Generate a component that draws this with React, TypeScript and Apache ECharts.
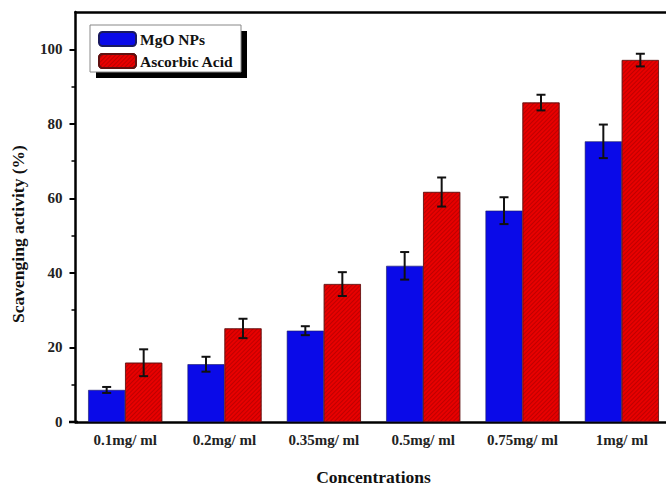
import React, { useEffect, useRef } from "react";
import * as echarts from "echarts";

const categories = ["0.1mg/ ml", "0.2mg/ ml", "0.35mg/ ml", "0.5mg/ ml", "0.75mg/ ml", "1mg/ ml"];
const mgoValues = [8.6, 15.5, 24.5, 41.9, 56.7, 75.3];
const mgoErrors = [0.8, 2.0, 1.2, 3.7, 3.6, 4.5];
const acidValues = [15.9, 25.1, 37.0, 61.7, 85.7, 97.1];
const acidErrors = [3.6, 2.6, 3.2, 3.9, 2.1, 1.7];
const seriesNames = ["MgO NPs", "Ascorbic Acid"];
const yTicks = [0, 20, 40, 60, 80, 100];
const yTitle = "Scavenging activity (%)";

const FONT = "'Liberation Serif', 'Times New Roman', serif";
const GAP = 0.255;

function errorSeries(name: string, values: number[], errs: number[], side: number) {
  return {
    type: "custom",
    name: name + " err",
    xAxisIndex: 0,
    yAxisIndex: 0,
    z: 10,
    silent: true,
    encode: { x: 0, y: 1 },
    data: values.map((v, i) => [i, v, errs[i]]),
    renderItem: (params: any, api: any) => {
      const x = api.value(0);
      const v = api.value(1);
      const e = api.value(2);
      const cw = api.size([1, 0])[0];
      const bw = (cw * (1 - GAP)) / 2;
      const off = (side * bw) / 2;
      const top = api.coord([x, v + e]);
      const bot = api.coord([x, v - e]);
      const cx = top[0] + off;
      const cap = 4.5;
      const style = { stroke: "#111", lineWidth: 2 };
      return {
        type: "group",
        children: [
          { type: "line", shape: { x1: cx, y1: top[1], x2: cx, y2: bot[1] }, style },
          { type: "line", shape: { x1: cx - cap, y1: top[1], x2: cx + cap, y2: top[1] }, style },
          { type: "line", shape: { x1: cx - cap, y1: bot[1], x2: cx + cap, y2: bot[1] }, style },
        ],
      };
    },
  };
}

export default function App() {
  const ref = useRef<HTMLDivElement>(null);
  useEffect(() => {
    if (!ref.current) return;
    const chart = echarts.init(ref.current, undefined, { renderer: "svg" });
    const labelStyle = { fontFamily: FONT, fontWeight: "bold" as const, color: "#222" };
    chart.setOption({
      animation: false,
      backgroundColor: "#fff",
      grid: { left: 75.5, right: -5.5, top: 12, bottom: 65, containLabel: false, outerBoundsMode: "none" },
      graphic: [
        { type: "rect", z: 90, shape: { x: 96, y: 31, width: 151, height: 47 }, style: { fill: "#000" } },
        { type: "rect", z: 91, shape: { x: 90, y: 25, width: 151, height: 47 }, style: { fill: "#fff", stroke: "#888", lineWidth: 1 } },
        { type: "line", z: 50, shape: { x1: 69, y1: 422, x2: 78, y2: 422 }, style: { stroke: "#000", lineWidth: 2.5 } },
        {
          type: "text",
          z: 50,
          x: 18,
          y: 234,
          rotation: Math.PI / 2,
          style: {
            text: yTitle,
            fill: "#111",
            font: `bold 17.5px ${FONT}`,
            textAlign: "center",
            textVerticalAlign: "middle",
          },
        },
      ],
      legend: {
        z: 100,
        orient: "vertical",
        left: 98,
        top: 31,
        itemWidth: 37,
        itemHeight: 14,
        itemGap: 6,
        padding: 0,
        data: seriesNames,
        textStyle: { fontFamily: FONT, fontWeight: "bold", fontSize: 15.5, color: "#111", padding: [0, 0, 0, -1] },
      },
      xAxis: [
        {
          type: "category",
          data: categories,
          position: "bottom",
          name: "Concentrations",
          nameLocation: "middle",
          nameGap: 46,
          nameTextStyle: { ...labelStyle, fontSize: 17.5, color: "#111" },
          axisLine: { lineStyle: { color: "#000", width: 2.5 } },
          axisTick: { alignWithLabel: true, length: 6, lineStyle: { color: "#000", width: 2 } },
          axisLabel: { ...labelStyle, fontSize: 15, margin: 10 },
        },
        {
          type: "category",
          data: categories,
          position: "bottom",
          axisLine: { show: false },
          axisTick: { length: 4, lineStyle: { color: "#000", width: 1.5 } },
          axisLabel: { show: false },
        },
        {
          type: "category",
          data: categories,
          position: "top",
          axisLine: { lineStyle: { color: "#000", width: 2.5 } },
          axisTick: { show: false },
          axisLabel: { show: false },
        },
      ],
      yAxis: {
        type: "value",
        min: 0,
        max: 110,
        interval: 20,
        axisLine: { show: true, lineStyle: { color: "#000", width: 2.5 } },
        axisTick: { show: true, length: 6, customValues: yTicks, lineStyle: { color: "#000", width: 2 } },
        minorTick: { show: true, splitNumber: 2, length: 4, lineStyle: { color: "#000", width: 1.5 } },
        splitLine: { show: false },
        axisLabel: {
          ...labelStyle,
          fontSize: 15,
          margin: 13,
          customValues: yTicks,
          formatter: (v: number) => (v > 100 ? "" : String(v)),
        },
      },
      series: [
        {
          type: "bar",
          name: seriesNames[0],
          data: mgoValues,
          barGap: "0%",
          barCategoryGap: "25.5%",
          itemStyle: { color: "#0a0ae8", borderColor: "#1a1a60", borderWidth: 0.6 },
        },
        {
          type: "bar",
          name: seriesNames[1],
          data: acidValues,
          barGap: "0%",
          barCategoryGap: "25.5%",
          itemStyle: {
            color: "#e80000",
            borderColor: "#601010",
            borderWidth: 0.6,
            decal: {
              symbol: "rect",
              symbolSize: 1,
              color: "rgba(140,0,0,0.45)",
              dashArrayX: [[1, 0]],
              dashArrayY: [1, 2],
              rotation: -Math.PI / 4,
            },
          },
        },
        errorSeries(seriesNames[0], mgoValues, mgoErrors, -1),
        errorSeries(seriesNames[1], acidValues, acidErrors, 1),
      ],
    });
    return () => chart.dispose();
  }, []);
  return <div ref={ref} style={{ width: 666, height: 487, position: "absolute", left: 0, top: 0 }} />;
}
